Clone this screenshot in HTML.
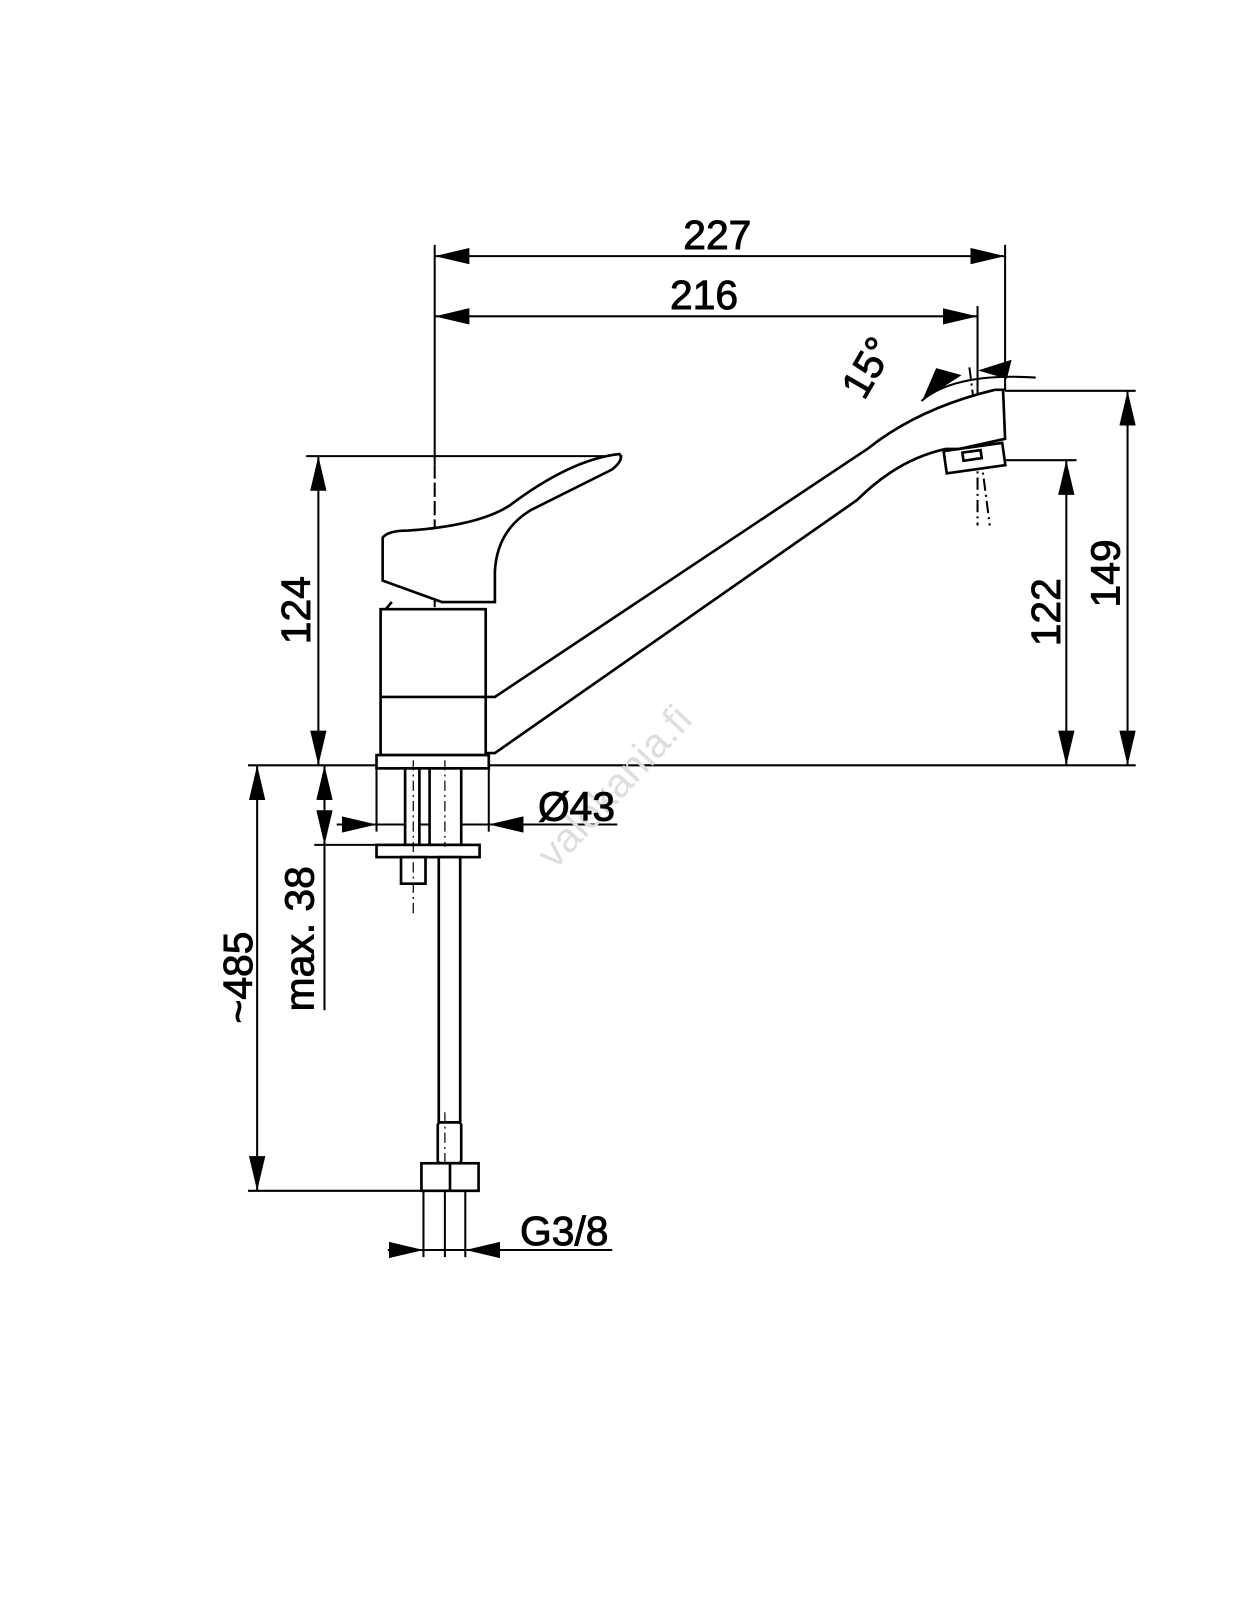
<!DOCTYPE html>
<html><head><meta charset="utf-8"><style>
html,body{margin:0;padding:0;background:#fff}
svg{display:block}
text{font-family:"Liberation Sans",Arial,sans-serif;fill:#000}
</style></head><body>
<svg width="1247" height="1600" viewBox="0 0 1247 1600" xmlns="http://www.w3.org/2000/svg">
<defs>
<marker id="a" markerWidth="34" markerHeight="16" refX="34" refY="8" orient="auto-start-reverse" markerUnits="userSpaceOnUse"><path d="M0,0 L34,8 L0,16 Z" fill="#000"/></marker>
</defs>
<g transform="scale(1.0204)">
<g stroke="#000" stroke-width="2" fill="none">
<line x1="426" y1="251" x2="985" y2="251" marker-start="url(#a)" marker-end="url(#a)"/>
<line x1="426" y1="310" x2="958" y2="310" marker-start="url(#a)" marker-end="url(#a)"/>
<line x1="426" y1="240" x2="426" y2="455"/>
<line x1="426" y1="455" x2="426" y2="745" stroke-dasharray="14,4"/>
<line x1="985" y1="240" x2="985" y2="383"/>
<line x1="958" y1="300" x2="958" y2="380"/>
<line x1="958" y1="380" x2="958" y2="515" stroke-dasharray="12,4,2,4"/>
<path d="M903,393 Q935,365 1015,370"/>
<path d="M906,390 L918,362 L940,368 Z" fill="#000"/>
<path d="M962,363 L990,354 L986,370 Z" fill="#000"/>
<line x1="950" y1="360" x2="970" y2="515" stroke-dasharray="12,4,2,4"/>
<line x1="300" y1="447" x2="610" y2="447"/>
<line x1="243" y1="750" x2="1113" y2="750"/>
<line x1="955" y1="451" x2="1055" y2="451"/>
<line x1="985" y1="383" x2="1113" y2="383"/>
<line x1="312" y1="447" x2="312" y2="750" marker-start="url(#a)" marker-end="url(#a)"/>
<line x1="1045" y1="451" x2="1045" y2="750" marker-start="url(#a)" marker-end="url(#a)"/>
<line x1="1105" y1="383" x2="1105" y2="750" marker-start="url(#a)" marker-end="url(#a)"/>
<line x1="252" y1="750" x2="252" y2="1167" marker-start="url(#a)" marker-end="url(#a)"/>
<line x1="243" y1="1167" x2="415" y2="1167"/>
<line x1="318" y1="750" x2="318" y2="828" marker-start="url(#a)" marker-end="url(#a)"/>
<line x1="318" y1="828" x2="318" y2="990"/>
<line x1="308" y1="828" x2="369" y2="828"/>
<line x1="330" y1="808" x2="369" y2="808" marker-end="url(#a)"/>
<line x1="369" y1="808" x2="479" y2="808"/>
<line x1="605" y1="808" x2="479" y2="808" marker-end="url(#a)"/>
<line x1="369" y1="753" x2="369" y2="815"/>
<line x1="479" y1="753" x2="479" y2="815"/>
<line x1="380" y1="1225" x2="415" y2="1225" marker-end="url(#a)"/>
<line x1="415" y1="1225" x2="456" y2="1225"/>
<line x1="600" y1="1225" x2="456" y2="1225" marker-end="url(#a)"/>
<line x1="415" y1="1167" x2="415" y2="1232"/>
<line x1="456" y1="1167" x2="456" y2="1232"/>
<line x1="436" y1="1167" x2="436" y2="1232"/>
</g>
<g stroke="#000" stroke-width="2.6" fill="#fff">
<path d="M476,683 L485,683 L850,440 Q900,400 975,382 L983,382 L985,430 L940,440 L927,440 Q880,450 840,490 L485,738 L476,738"/>
<rect x="926" y="438" width="58" height="22" transform="rotate(-8 955 449)"/>
<rect x="944" y="442" width="18" height="8" transform="rotate(-8 955 449)"/>
<rect x="373" y="597" width="103" height="143"/>
<line x1="373" y1="683" x2="476" y2="683"/>
<rect x="369" y="740" width="110" height="13"/>
<path d="M384,590 L378,597 M375,527 L375,569 L433,590 L485,590 L485,560 Q487,520 520,500 L600,460 Q612,450 607,445 Q560,450 500,495 Q470,515 400,520 Q380,520 375,527 Z"/>
<rect x="397" y="753" width="14" height="75"/>
<rect x="421" y="753" width="31" height="75"/>
<rect x="369" y="828" width="101" height="12"/>
<rect x="393" y="840" width="24" height="26"/>
<rect x="430" y="840" width="21" height="260"/>
<rect x="429" y="1100" width="23" height="40" rx="3"/>
<rect x="413" y="1140" width="56" height="27"/>
<line x1="441" y1="1140" x2="441" y2="1167"/>
</g>
<g stroke="#000" stroke-width="1.2" stroke-dasharray="10,4,2,4">
<line x1="405" y1="745" x2="405" y2="895"/>
<line x1="436" y1="745" x2="436" y2="830"/>
<line x1="436" y1="1090" x2="436" y2="1140"/>
</g>
<text transform="translate(612,780) rotate(-47)" text-anchor="middle" font-size="40" style="fill:#dedede">valokania.fi</text>
<g font-size="40" style="stroke:#000;stroke-width:0.9">
<text x="703" y="244" text-anchor="middle">227</text>
<text x="690" y="303" text-anchor="middle">216</text>
<text x="565" y="804" text-anchor="middle">Ø43</text>
<text x="553" y="1220" text-anchor="middle">G3/8</text>
<text transform="translate(304,598) rotate(-90)" text-anchor="middle">124</text>
<text transform="translate(1039,600) rotate(-90)" text-anchor="middle">122</text>
<text transform="translate(1097,562) rotate(-90)" text-anchor="middle">149</text>
<text transform="translate(247,958) rotate(-90)" text-anchor="middle">~485</text>
<text transform="translate(307,920) rotate(-90)" text-anchor="middle">max. 38</text>
<text transform="translate(862,367) rotate(-60)" text-anchor="middle">15°</text>
</g>
</g>
</svg>
</body></html>
